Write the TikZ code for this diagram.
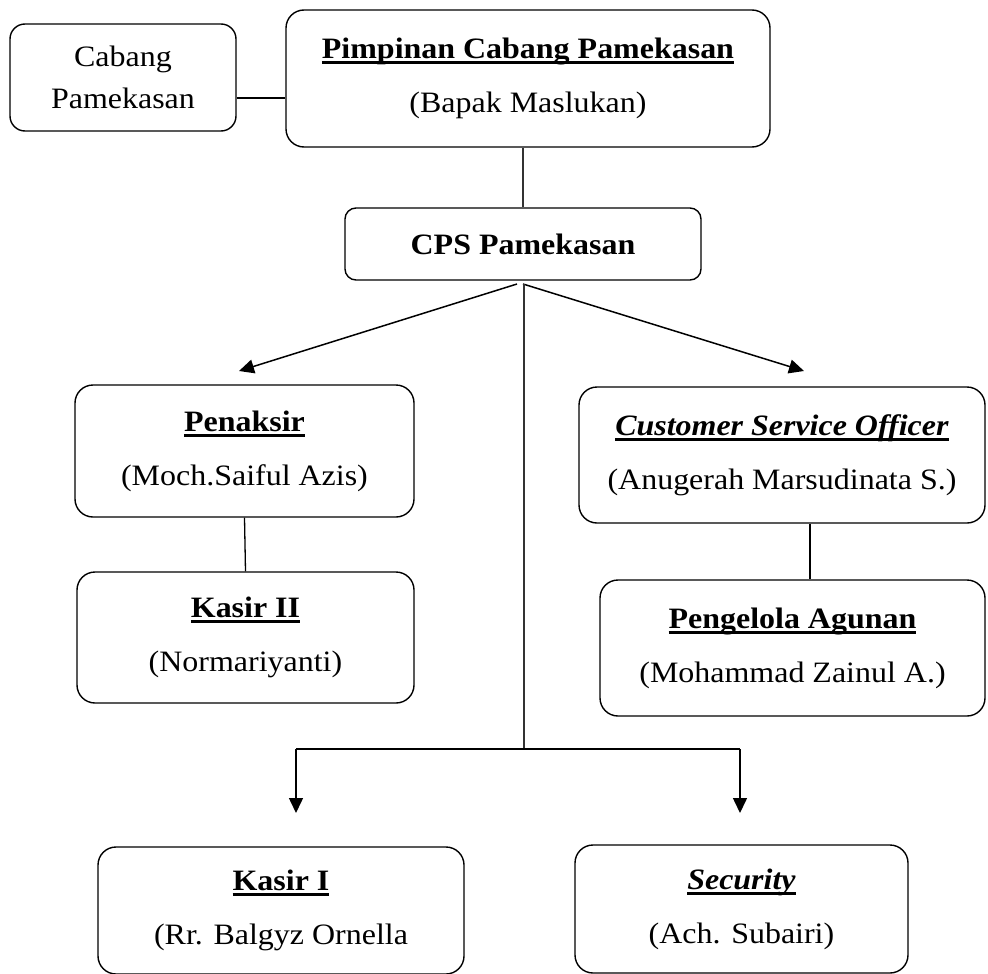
\documentclass[tikz,border=0pt]{standalone}
\usepackage{fontspec}
\setmainfont[FakeStretch=1.08]{Liberation Serif}
\usetikzlibrary{arrows.meta}
\newcommand\ulx[1]{\leavevmode\setbox0\hbox{#1}\rlap{\vrule height -2.5pt depth 5.4pt width \wd0}\box0}
\begin{document}
\begin{tikzpicture}[x=1pt,y=-1pt,
  box/.style={draw, line width=1.4pt, rounded corners=18pt, align=center, inner sep=0pt,
    font=\fontsize{29.6}{36}\selectfont},
  conn/.style={line width=1.3pt},
  arr/.style={line width=1.5pt, -{Triangle[length=15pt,width=14pt]}}]
\useasboundingbox (0,0) rectangle (988,974);
\clip (0,0) rectangle (988,974);

\node[box, rounded corners=15pt, minimum width=226pt, minimum height=107pt] (cabang) at (123,77.5)
  {Cabang\\[6pt]Pamekasan};
\node[box, minimum width=484pt, minimum height=137pt] (pimp) at (528,78.5)
  {\ulx{\textbf{Pimpinan Cabang Pamekasan}}\\[18pt](Bapak Maslukan)};
\node[box, rounded corners=11pt, minimum width=356pt, minimum height=72pt] (cps) at (523,244)
  {\textbf{CPS Pamekasan}};
\node[box, minimum width=339pt, minimum height=132pt] (pen) at (244.5,451)
  {\ulx{\textbf{Penaksir}}\\[18pt](Moch.Saiful Azis)};
\node[box, minimum width=337pt, minimum height=131pt] (kas2) at (245.5,637.5)
  {\ulx{\textbf{Kasir II}}\\[18pt](Normariyanti)};
\node[box, minimum width=406pt, minimum height=136pt] (cso) at (782,455)
  {\ulx{\textbf{\textit{Customer Service Officer}}}\\[18pt](Anugerah Marsudinata S.)};
\node[box, minimum width=385pt, minimum height=136pt] (peng) at (792.5,648)
  {\ulx{\textbf{Pengelola Agunan}}\\[18pt](Mohammad Zainul A.)};
\node[box, minimum width=366pt, minimum height=127pt] (kas1) at (281,910.5)
  {\ulx{\textbf{Kasir I}}\\[18pt](Rr. Balgyz Ornella};
\node[box, minimum width=333pt, minimum height=128pt] (sec) at (741.5,909)
  {\ulx{\textbf{\textit{Security}}}\\[18pt](Ach. Subairi)};

% connectors
\coordinate (jc) at (260,98);
\draw[conn] (cabang.east |- jc) -- (pimp.west |- jc);
\draw[line width=1.1pt, black!80] (cps.north |- pimp.south) -- (cps.north);

\coordinate (sL) at (517,284);
\coordinate (sR) at (523,284);
\coordinate (tL) at (239,371);
\coordinate (tR) at (804,371);
\draw[arr] (sL) -- (tL);
\draw[arr] (sR) -- (tR);

\coordinate (trunk) at (524,284);
\coordinate (hub) at (524,749);
\coordinate (hL) at (296,749);
\coordinate (hR) at (740,749);
\coordinate (bL) at (296,813);
\coordinate (bR) at (740,813);
\draw[line width=1.1pt, black!80] (trunk) -- (hub);
\draw[conn] (hL) -- (hR);
\draw[arr] (hL) -- (bL);
\draw[arr] (hR) -- (bR);

\draw[conn] (pen.south) -- (kas2.north);
\coordinate (cx) at (810,0);
\draw[conn] (cso.south -| cx) -- (peng.north -| cx);
\end{tikzpicture}
\end{document}
